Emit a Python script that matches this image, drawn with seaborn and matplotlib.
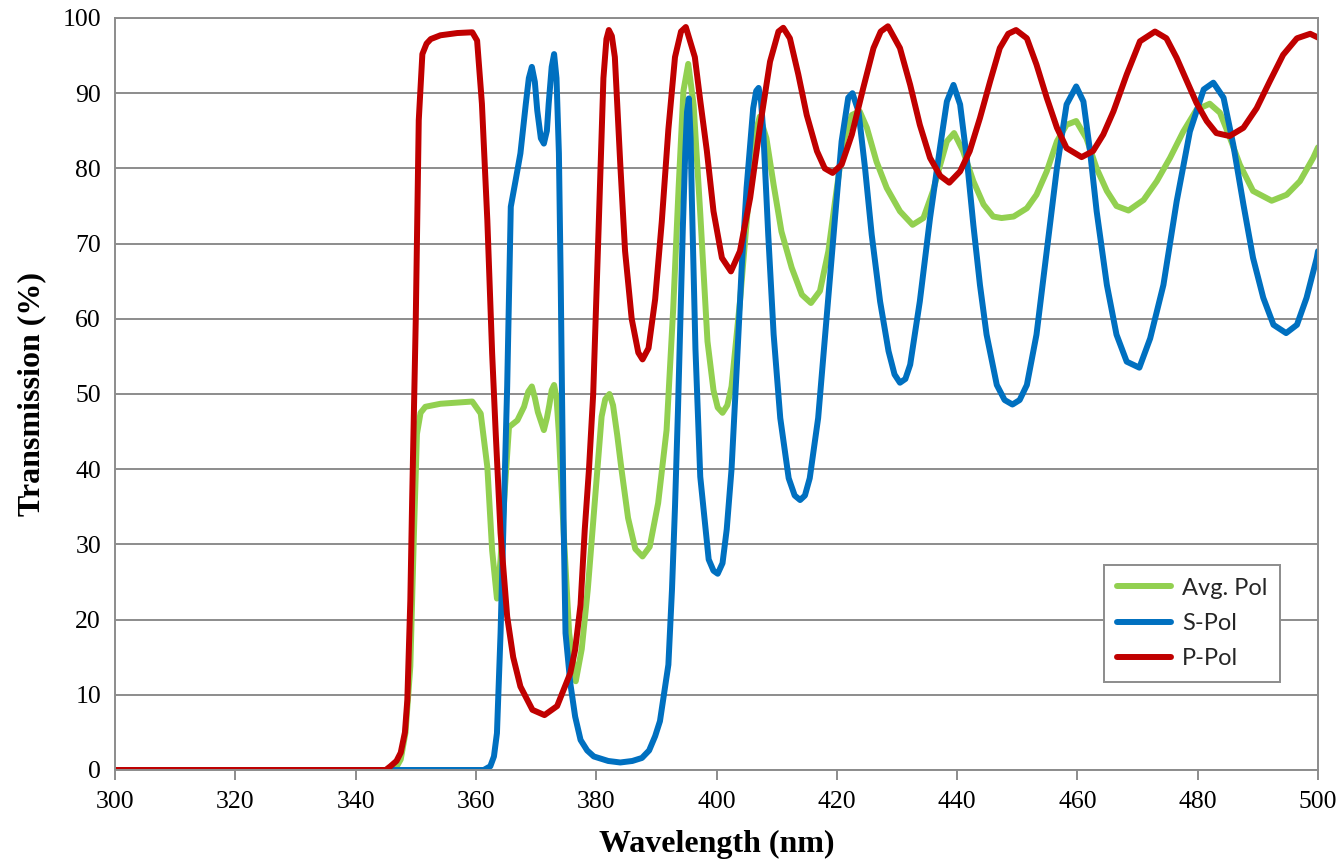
import matplotlib
matplotlib.use("Agg")
import matplotlib.pyplot as plt
import seaborn as sns
import pandas as pd

# ---- data (wavelength nm, transmission %) ----
p_x = [300, 345, 345.8, 346.8, 347.5, 348.2, 348.6, 349.1, 349.4, 350, 350.5, 351.1, 351.8, 352.5,
       354.1, 356.9, 359.4, 360.2, 361, 361.9, 362.7, 363.3, 364.1, 365.2, 366.2, 367.4, 369.4,
       371.4, 373.5, 375.7, 376.5, 377.4, 378.1, 378.8, 379.5, 380.4, 381.2, 381.7, 382.1, 382.6,
       383.1, 384, 384.8, 385.9, 387, 387.7, 388.7, 389.8, 390.9, 392, 393.1, 394.1, 394.9, 396.4,
       397.3, 398.4, 399.5, 400.9, 402.4, 403.9, 405.6, 407.2, 408.9, 410.3, 411.1, 412.2, 413.6,
       415, 416.7, 418, 419.3, 420.8, 422.5, 424.4, 426.1, 427.3, 428.5, 430.5, 432.2, 433.8,
       435.5, 437.2, 438.7, 440.5, 442.1, 443.8, 445.5, 447.1, 448.5, 449.8, 451.6, 453.2, 454.9,
       456.6, 458.2, 460.7, 462.6, 464.3, 466, 468.2, 470.4, 472.9, 474.8, 476.5, 478.2, 479.8,
       481.5, 483.1, 485.3, 487.6, 489.8, 492, 494.2, 496.5, 498.7, 500]
p_y = [0, 0, 0.5, 1.2, 2.3, 5, 9.3, 22.6, 35.9, 59.8, 86.4, 95.2, 96.6, 97.2,
       97.7, 98, 98.1, 97, 88.6, 73.1, 55.4, 44.7, 31.5, 20.4, 15, 11.1, 8,
       7.3, 8.5, 12.9, 16, 22, 32, 40, 50, 72, 92, 97.2, 98.4, 97.6,
       94.8, 80.6, 69, 60, 55.5, 54.6, 56.1, 62.6, 72.9, 85.2, 94.8, 98.2, 98.8, 94.8,
       89, 82.3, 74.3, 68.1, 66.3, 69, 76.1, 85.4, 94.2, 98.2, 98.7, 97.3, 92.5,
       87.1, 82.3, 80, 79.4, 80.5, 84.5, 90.7, 96, 98.2, 98.9, 96, 91.1, 85.8,
       81.4, 79, 78.1, 79.6, 82.3, 86.7, 91.6, 96, 97.9, 98.4, 97.3, 93.8, 89.4,
       85.4, 82.7, 81.5, 82.3, 84.5, 87.6, 92.5, 96.9, 98.2, 97.3, 94.7, 91.6, 88.7,
       86.3, 84.7, 84.3, 85.4, 88, 91.6, 95.1, 97.3, 97.9, 97.4]

s_x = [300, 361.3, 362.4, 363, 363.5, 364.1, 364.7, 365.2, 365.8, 366.6, 367.4, 368.3, 368.8,
       369.3, 369.8, 370.2, 370.8, 371.3, 371.8, 372.1, 372.6, 373, 373.4, 373.8, 374.1, 374.3,
       374.6, 374.9, 375.7, 376.5, 377.4, 378.5, 379.6, 382, 384, 386, 387.6, 388.8, 389.8, 390.6,
       391.2, 392, 392.6, 393.1, 393.6, 394, 394.4, 394.8, 395.1, 395.4, 395.7, 395.9, 396.5,
       397.3, 398.7, 399.5, 400.2, 401, 401.7, 402.5, 403.4, 404.2, 405, 406.1, 406.6, 407, 407.4,
       407.8, 408.6, 409.5, 410.6, 412, 413, 413.9, 414.7, 415.5, 416.9, 418.3, 419.7, 420.8,
       421.9, 422.6, 423.6, 424.7, 425.8, 427.2, 428.6, 429.6, 430.5, 431.4, 432.2, 433.8, 435.5,
       437.2, 438.3, 439.4, 440.5, 441.6, 442.7, 443.8, 444.9, 446.6, 447.9, 449.2, 450.4, 451.6,
       453.2, 454.9, 456.6, 458.2, 459.8, 461, 462.1, 463.2, 464.9, 466.5, 468.2, 470.3, 472.1,
       474.3, 476.5, 478.7, 481, 482.6, 484.3, 485.9, 487.6, 489.2, 490.9, 492.6, 494.7, 496.5,
       498.1, 499.8, 500]
s_y = [0, 0, 0.5, 1.8, 4.9, 18.2, 35.9, 51, 74.9, 78.4, 82, 88.6, 92,
       93.5, 91.5, 87.7, 84, 83.3, 85, 88.6, 93.5, 95.2, 92, 82, 65, 51,
       32, 18.2, 11.5, 7.1, 4, 2.6, 1.8, 1.2, 1.0, 1.2, 1.6, 2.6, 4.5, 6.5,
       9.7, 14, 24, 35, 48, 60, 72, 82, 87.5, 89.3, 84, 76, 56,
       39, 28, 26.5, 26.1, 27.5, 32, 40, 54, 67, 77.4, 88, 90.3, 90.7, 89,
       84.5, 71.2, 57.9, 46.8, 38.8, 36.5, 35.9, 36.5, 38.8, 46.8, 60.1, 73.4, 83.6,
       89.4, 90, 87.6, 80, 71.2, 62.3, 55.7, 52.6, 51.5, 52, 53.9, 62.3, 73.4,
       83, 88.9, 91.1, 88.5, 81.4, 72.5, 64.5, 57.9, 51.2, 49.2, 48.6, 49.2, 51.2,
       57.9, 69, 80.1, 88.5, 90.9, 88.9, 82.3, 74.3, 64.5, 57.9, 54.3, 53.5, 57.4,
       64.5, 75.6, 84.9, 90.5, 91.4, 89.4, 83.2, 75.2, 68.1, 62.8, 59.2, 58.1, 59.2,
       62.8, 68.1, 69]

a_x = [300, 346.5, 347.5, 348.3, 349.1, 349.7, 350.2, 350.8, 351.6, 354.1, 359.4, 360.8, 361.9,
       362.7, 363.5, 364.1, 364.7, 365.5, 366.9, 368, 368.7, 369.3, 369.8, 370.3, 371.3, 371.8,
       372.2, 372.6, 373, 373.4, 373.8, 374.6, 375.5, 376.6, 377.6, 378.6, 379.8, 380.9, 381.5,
       382.2, 382.8, 383.5, 384.2, 385.3, 386.5, 387.7, 388.9, 390.3, 391.7, 392.8, 393.7, 394.5,
       395.3, 396.2, 397.3, 398.5, 399.5, 400.2, 401, 401.8, 402.5, 403.9, 405.3, 406.4, 407.2,
       408.3, 409.5, 410.8, 412.5, 414.2, 415.7, 417.2, 418.6, 419.7, 421.1, 422.5, 423.8, 425,
       426.6, 428.3, 430.5, 432.6, 434.4, 436, 437.2, 438.3, 439.5, 441, 442.7, 444.4, 446,
       447.4, 449.4, 451.6, 453.2, 454.9, 456.6, 458.2, 459.8, 461.5, 463.2, 464.9, 466.5, 468.5,
       471, 473.2, 475.4, 477.6, 479.8, 482, 483.7, 485.4, 487, 489.2, 492.3, 494.8, 497, 499.2,
       500]
a_y = [0, 0, 1.4, 5, 13.8, 31.5, 44.7, 47.5, 48.3, 48.7, 49, 47.4, 40.3,
       29.2, 22.8, 28, 35.9, 45.6, 46.5, 48.3, 50.3, 51, 49.5, 47.6, 45.2, 46.8,
       48.5, 50.5, 51.2, 49.5, 44.7, 31.5, 18.2, 11.8, 16.1, 24, 36, 47, 49.3,
       50, 48.5, 44.5, 40, 33.5, 29.4, 28.4, 29.7, 35.5, 45.2, 61.3, 77.4, 90.3,
       93.9, 88.4, 74, 57, 50.5, 48.2, 47.5, 48.5, 51, 62.3, 75.6, 84.5, 86.9,
       84, 77.8, 71.6, 66.8, 63.2, 62.1, 63.7, 69, 75.6, 83.6, 87.1, 87.6, 85.4,
       80.9, 77.4, 74.3, 72.5, 73.4, 77, 80.5, 83.6, 84.7, 82.3, 78.3, 75.2, 73.6,
       73.4, 73.6, 74.7, 76.5, 79.6, 83.6, 85.8, 86.3, 84, 80, 77, 75, 74.4,
       75.8, 78.3, 81.4, 84.9, 87.8, 88.6, 87.4, 84, 80.5, 77, 75.7, 76.5, 78.3, 81.4,
       82.8]

series_names = ["Avg. Pol", "S-Pol", "P-Pol"]
series_colors = ["#92D050", "#0070C0", "#C00000"]
x_ticks = list(range(300, 501, 20))
y_ticks = list(range(0, 101, 10))

df = pd.concat([
    pd.DataFrame({"Wavelength": a_x, "T": a_y, "Series": series_names[0]}),
    pd.DataFrame({"Wavelength": s_x, "T": s_y, "Series": series_names[1]}),
    pd.DataFrame({"Wavelength": p_x, "T": p_y, "Series": series_names[2]}),
], ignore_index=True)

sns.set_theme(style="white")
plt.rcParams["font.family"] = ["Liberation Serif", "DejaVu Serif"]
plt.rcParams["lines.solid_joinstyle"] = "round"
plt.rcParams["lines.solid_capstyle"] = "round"

fig = plt.figure(figsize=(13.44, 8.64), dpi=100)
ax = fig.add_axes([115 / 1344, 94 / 864, 1203 / 1344, 752 / 864])

sns.lineplot(data=df, x="Wavelength", y="T", hue="Series", hue_order=series_names,
             palette=series_colors, sort=False, estimator=None, linewidth=4.3, ax=ax)

ax.set_xlim(300, 500)
ax.set_ylim(0, 100)
ax.set_xticks(x_ticks)
ax.set_yticks(y_ticks)
ax.yaxis.grid(True, color="#8c8c8c", linewidth=1.4)
ax.xaxis.grid(False)
ax.set_axisbelow(True)
for sp in ax.spines.values():
    sp.set_color("#8c8c8c")
    sp.set_linewidth(1.4)
ax.tick_params(axis="x", direction="out", length=7, width=1.4, color="#8c8c8c",
               labelsize=18.5, pad=8, bottom=True, labelcolor="black")
ax.tick_params(axis="y", length=0, labelsize=18.5, pad=10, left=False, labelcolor="black")

ax.set_xlabel("Wavelength (nm)", fontsize=23, fontweight="bold", labelpad=12, color="black")
ax.set_ylabel("Transmission (%)", fontsize=23, fontweight="bold", labelpad=12, color="black")

leg = ax.legend(loc="lower left", bbox_to_anchor=(0.822, 0.117), frameon=True,
                fancybox=False, edgecolor="#8c8c8c", framealpha=1,
                prop={"family": ["Lato", "DejaVu Sans"], "size": 17},
                handlelength=2.3, handletextpad=0.45, labelspacing=0.6,
                borderpad=0.55, borderaxespad=0)
leg.get_frame().set_linewidth(1.4)
for line in leg.get_lines():
    line.set_linewidth(4.3)
    line.set_solid_capstyle("round")

fig.savefig("out.png", dpi=100)
